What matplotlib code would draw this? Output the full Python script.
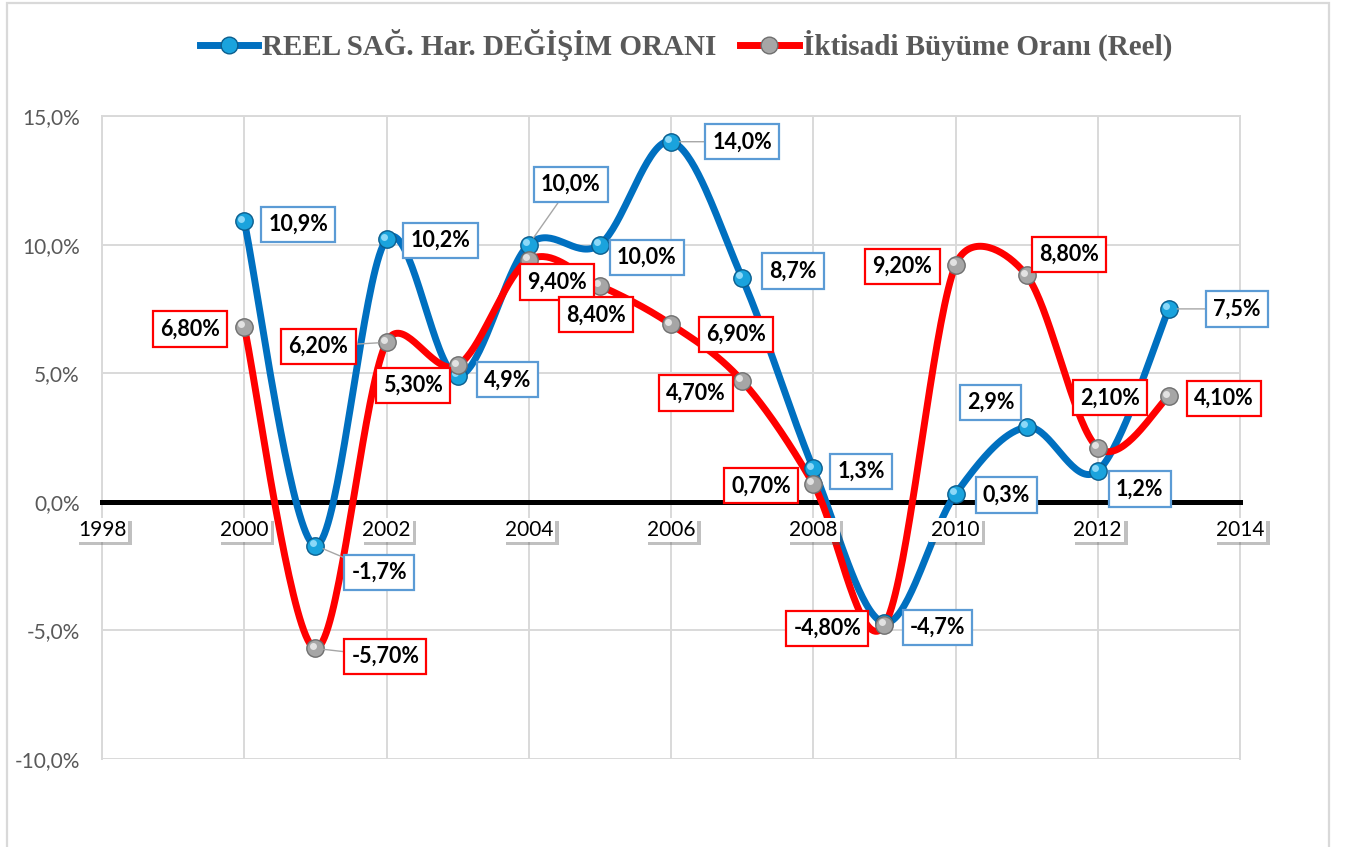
import numpy as np
import matplotlib
matplotlib.use("Agg")
import matplotlib.pyplot as plt
from matplotlib.lines import Line2D
from matplotlib.patches import Rectangle
import matplotlib.patheffects as pe

plt.rcParams["font.family"] = ["Lato", "DejaVu Sans"]

# veriler (yüzde)
years = [2000, 2001, 2002, 2003, 2004, 2005, 2006, 2007, 2008, 2009, 2010, 2011, 2012, 2013]
saglik = [10.9, -1.7, 10.2, 4.9, 10.0, 10.0, 14.0, 8.7, 1.3, -4.7, 0.3, 2.9, 1.2, 7.5]
buyume = [6.8, -5.7, 6.2, 5.3, 9.4, 8.4, 6.9, 4.7, 0.7, -4.8, 9.2, 8.8, 2.1, 4.1]
saglik_labels = ["10,9%", "-1,7%", "10,2%", "4,9%", "10,0%", "10,0%", "14,0%", "8,7%",
                 "1,3%", "-4,7%", "0,3%", "2,9%", "1,2%", "7,5%"]
buyume_labels = ["6,80%", "-5,70%", "6,20%", "5,30%", "9,40%", "8,40%", "6,90%", "4,70%",
                 "0,70%", "-4,80%", "9,20%", "8,80%", "2,10%", "4,10%"]
xticks = [1998, 2000, 2002, 2004, 2006, 2008, 2010, 2012, 2014]
yticks = [-10, -5, 0, 5, 10, 15]
ytick_labels = ["-10,0%", "-5,0%", "0,0%", "5,0%", "10,0%", "15,0%"]
legend_names = ["REEL SAĞ. Har. DEĞİŞİM ORANI", "İktisadi Büyüme Oranı (Reel)"]

# etiket kaydırmaları (piksel: sağa, aşağı) ve kılavuz çizgisi olanlar
saglik_off = [(54, 3), (64, 27), (54, 1), (50, 4), (42, -60), (47, 13), (71, 0), (51, -7),
              (48, 3), (53, 5), (51, 1), (-36, -25), (42, 18), (68, 0)]
saglik_lead = {1, 4, 6, 13}
buyume_off = [(-54, 2), (70, 8), (-68, 4), (-45, 20), (28, 22), (-4, 29), (65, 10), (-46, 12),
              (-52, 2), (-57, 3), (-53, 1), (42, -21), (12, -50), (55, 2)]
buyume_lead = {1, 2}

BLUE = "#0070C0"
RED = "#FF0000"
GRID = "#D9D9D9"
PX_YR = 1138 / 16.0   # piksel / yıl
PX_PC = 643 / 25.0    # piksel / %


def smooth(x, y, n=40, clamp=0.5):
    # Excel tarzı yumuşatılmış çizgi: Catmull-Rom -> Bezier, kollar segmentin yarısıyla sınırlı
    P = np.column_stack([np.asarray(x, float) * PX_YR, np.asarray(y, float) * PX_PC])
    Q = np.vstack([P[0], P, P[-1]])
    out = []
    t = np.linspace(0, 1, n)[:, None]
    for i in range(1, len(Q) - 2):
        p0, p1, p2, p3 = Q[i - 1], Q[i], Q[i + 1], Q[i + 2]
        seg_len = np.hypot(*(p2 - p1))
        h1 = (p2 - p0) / 6.0
        h2 = (p3 - p1) / 6.0
        for h in (h1, h2):
            L = np.hypot(*h)
            if L > clamp * seg_len:
                h *= clamp * seg_len / L
        c1 = p1 + h1
        c2 = p2 - h2
        seg = ((1 - t) ** 3) * p1 + 3 * ((1 - t) ** 2) * t * c1 + 3 * (1 - t) * t ** 2 * c2 + t ** 3 * p2
        out.append(seg if i == 1 else seg[1:])
    s = np.vstack(out)
    return s[:, 0] / PX_YR, s[:, 1] / PX_PC


fig = plt.figure(figsize=(13.46, 8.47), dpi=100)
fig.patches.append(Rectangle((7 / 1346, -0.05), 1322 / 1346, 1.05 - 3 / 847,
                             transform=fig.transFigure, fill=False,
                             edgecolor=GRID, linewidth=1.6, zorder=0))
ax = fig.add_axes([102 / 1346, 1 - 759 / 847, 1138 / 1346, (759 - 116) / 847])
ax.set_xlim(1998, 2014)
ax.set_ylim(-10, 15)

for s in ["left", "right", "top"]:
    ax.spines[s].set_color(GRID)
    ax.spines[s].set_linewidth(1.4)
ax.spines["bottom"].set_position(("data", 0))
ax.spines["bottom"].set_color("black")
ax.spines["bottom"].set_linewidth(3.6)
ax.spines["bottom"].set_zorder(2.5)

# kılavuz çizgileri elle (etiketler çizgilerin üstünde kalsın diye)
for v in yticks:
    ax.axhline(v, color=GRID, linewidth=1.4, zorder=0.5)
for v in xticks:
    ax.axvline(v, color=GRID, linewidth=1.4, zorder=0.5)

ax.set_yticks(yticks)
ax.set_yticklabels(ytick_labels)
ax.set_xticks(xticks)
ax.set_xticklabels([str(v) for v in xticks])
ax.tick_params(length=0)
ax.tick_params(axis="y", pad=16, labelsize=15, labelcolor="#595959")
ax.tick_params(axis="x", pad=13, labelsize=15, labelcolor="black")
ax.xaxis.set_zorder(5)

for lbl in ax.get_xticklabels():
    lbl.set_bbox(dict(facecolor="white", edgecolor="none", pad=1.5))
    lbl.get_bbox_patch().set_path_effects([pe.SimplePatchShadow(offset=(2.5, -2.5), alpha=0.35),
                                           pe.Normal()])

# çizgiler
sx, sy = smooth(years, saglik)
ax.plot(sx, sy, color=BLUE, linewidth=5, solid_capstyle="round", zorder=3)
bx, by = smooth(years, buyume)
ax.plot(bx, by, color=RED, linewidth=5, solid_capstyle="round", zorder=3.2)


def balls(x, y, face, edge, hi, z):
    ax.plot(x, y, "o", markersize=12.5, markerfacecolor=face, markeredgecolor=edge,
            markeredgewidth=1.0, zorder=z)
    ax.plot(x, y, "o", markersize=5, markerfacecolor=hi, markeredgecolor="none",
            alpha=0.8, zorder=z + 0.05,
            transform=ax.transData + matplotlib.transforms.ScaledTranslation(-2 / 72, 2 / 72, fig.dpi_scale_trans))


balls(years, saglik, "#1AA3DD", "#0B5E8E", "#A8E6FF", 4)
balls(years, buyume, "#A6A6A6", "#6F6F6F", "#F2F2F2", 4.2)


def labels(vals, texts, offs, leads, edge):
    for i, (yr, v, t, (dx, dy)) in enumerate(zip(years, vals, texts, offs)):
        kw = {}
        if i in leads:
            kw["arrowprops"] = dict(arrowstyle="-", color="#A6A6A6", linewidth=1.0,
                                    shrinkA=0, shrinkB=6)
        ax.annotate(t, (yr, v), xytext=(dx * 0.72, -dy * 0.72), textcoords="offset points",
                    ha="center", va="center", fontsize=15.5, fontweight="bold", color="black",
                    bbox=dict(boxstyle="square,pad=0.33", facecolor="white", edgecolor=edge,
                              linewidth=1.6),
                    zorder=6, **kw)


labels(saglik, saglik_labels, saglik_off, saglik_lead, "#5B9BD5")
labels(buyume, buyume_labels, buyume_off, buyume_lead, RED)

handles = [
    Line2D([], [], color=BLUE, linewidth=5, marker="o", markersize=12, markerfacecolor="#1AA3DD",
           markeredgecolor="#0B5E8E"),
    Line2D([], [], color=RED, linewidth=5, marker="o", markersize=12, markerfacecolor="#A6A6A6",
           markeredgecolor="#6F6F6F"),
]
leg = fig.legend(handles, legend_names, loc="center", bbox_to_anchor=(686 / 1346, 1 - 45 / 847),
                 ncol=2, frameon=False, handlelength=2.0, columnspacing=0.8, handletextpad=0.15,
                 prop=dict(family=["Liberation Serif", "DejaVu Serif"], weight="bold", size=21))
for t in leg.get_texts():
    t.set_color("#595959")

fig.savefig("out.png", dpi=100)
